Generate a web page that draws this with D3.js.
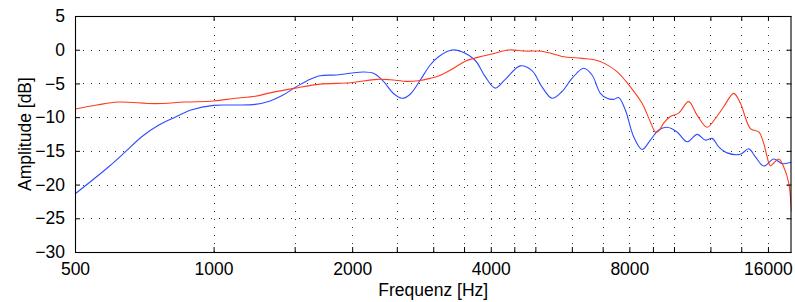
<!DOCTYPE html>
<html>
<head>
<meta charset="utf-8">
<script src="https://cdn.jsdelivr.net/npm/d3@7"></script>
<style>
  body { margin: 0; background: #fff; }
  svg text { font-family: "Liberation Sans", Arial, Helvetica, sans-serif; fill: #000; }
</style>
</head>
<body>
<div id="chart"></div>
<script>
const SVG_WIDTH = 795;
const SVG_HEIGHT = 302;
const MARGIN = { top: 16, right: 3.5, bottom: 50, left: 75 };
const WIDTH = SVG_WIDTH - MARGIN.left - MARGIN.right;
const HEIGHT = SVG_HEIGHT - MARGIN.top - MARGIN.bottom;

const X_DOMAIN = [500, 18000];
const Y_DOMAIN = [-30, 5];
const X_TICKS = [500, 1000, 2000, 4000, 8000, 16000];
const X_GRID = [1000, 1500, 2000, 2500, 3000, 3500, 4000, 4500, 5000, 6000, 7000,
                8000, 9000, 10000, 12000, 14000, 16000];
const Y_TICKS = [-30, -25, -20, -15, -10, -5, 0, 5];
const Y_GRID = [-25, -20, -15, -10, -5, 0];

// blue curve
const blueFreq = [500, 591, 642, 698, 759, 825, 897, 1000, 1114, 1231, 1327, 1409, 1504, 1597,
  1704, 1853, 1980, 2116, 2225, 2339, 2459, 2565, 2674, 2811, 2955, 3080, 3294, 3463, 3702,
  3891, 4091, 4301, 4636, 4916, 5168, 5433, 5712, 6005, 6364, 6637, 6919, 7155, 7395, 7582,
  7841, 8174, 8524, 8886, 9263, 9661, 10156, 10678, 11225, 11702, 12101, 12507, 13044, 13942,
  14534, 15029, 15667, 16471, 17178, 18000];
const blueDb = [-21.4, -17.4, -15.2, -12.9, -11.2, -10.0, -8.9, -8.25, -8.2, -8.1, -7.6, -6.8,
  -5.6, -4.6, -3.85, -3.75, -3.5, -3.3, -3.5, -4.7, -6.5, -7.2, -6.6, -4.5, -2.27, -1.04, -0.04,
  -0.3, -1.6, -4.0, -5.7, -4.4, -2.4, -3.1, -5.5, -7.2, -6.2, -4.25, -2.76, -3.75, -6.47, -7.2,
  -7.36, -7.1, -8.95, -12.9, -14.8, -13.4, -11.9, -11.5, -12.2, -13.65, -12.55, -13.4, -13.15,
  -14.4, -15.3, -15.5, -14.7, -15.9, -17.25, -16.2, -16.9, -16.7];

// red curve
const redFreq = [500, 558, 621, 746, 867, 1000, 1114, 1231, 1327, 1504, 1704, 1980, 2263, 2419,
  2630, 2783, 2955, 3080, 3294, 3521, 3763, 4024, 4373, 4754, 5081, 5342, 5712, 6313, 6748,
  7094, 7522, 8040, 8524, 8886, 9111, 9263, 9497, 9821, 10238, 10763, 11225, 11802, 12302,
  12824, 13484, 13942, 14658, 15279, 15667, 15935, 16201, 16887, 17316, 17754, 18000];
const redDb = [-8.8, -8.2, -7.76, -8.0, -7.76, -7.6, -7.2, -6.9, -6.4, -5.7, -5.1, -4.9, -4.4,
  -4.45, -4.7, -4.6, -4.25, -3.9, -2.9, -1.7, -1.1, -0.64, -0.04, -0.2, -0.2, -0.45, -1.0,
  -1.28, -1.53, -2.1, -3.26, -5.5, -7.95, -10.7, -12.2, -12.06, -10.9, -9.9, -9.4, -7.7, -9.7,
  -11.5, -10.2, -8.46, -6.47, -7.95, -11.7, -12.2, -13.9, -15.9, -17.2, -16.2, -17.4, -19.8, -24.0];

const svg = d3.select("#chart")
  .append("svg")
  .attr("width", SVG_WIDTH)
  .attr("height", SVG_HEIGHT);

const g = svg.append("g")
  .attr("transform", `translate(${MARGIN.left},${MARGIN.top})`);

const xScale = d3.scaleLog().domain(X_DOMAIN).range([0, WIDTH]);
const yScale = d3.scaleLinear().domain(Y_DOMAIN).range([HEIGHT, 0]);

const crisp = v => Math.round(v) + 0.5;

// grid
g.append("g").attr("class", "grid")
  .selectAll("line.vgrid")
  .data(X_GRID)
  .join("line")
  .attr("x1", d => crisp(xScale(d)))
  .attr("x2", d => crisp(xScale(d)))
  .attr("y1", HEIGHT)
  .attr("y2", 0)
  .attr("stroke", "#333")
  .attr("stroke-dasharray", "1,7");

g.append("g").attr("class", "grid")
  .selectAll("line.hgrid")
  .data(Y_GRID)
  .join("line")
  .attr("x1", 0)
  .attr("x2", WIDTH)
  .attr("y1", d => crisp(yScale(d)))
  .attr("y2", d => crisp(yScale(d)))
  .attr("stroke", "#333")
  .attr("stroke-dasharray", "1,7");

// curves
g.append("clipPath").attr("id", "plot-clip")
  .append("rect").attr("width", WIDTH).attr("height", HEIGHT);

const line = d3.line()
  .x(d => xScale(d[0]))
  .y(d => yScale(d[1]))
  .curve(d3.curveCatmullRom.alpha(0.5));

const series = [
  { pts: d3.zip(blueFreq, blueDb), color: "#2f4cff" },
  { pts: d3.zip(redFreq, redDb), color: "#ff3b1f" }
];

g.append("g").attr("clip-path", "url(#plot-clip)")
  .selectAll("path")
  .data(series)
  .join("path")
  .attr("d", d => line(d.pts))
  .attr("fill", "none")
  .attr("stroke", d => d.color)
  .attr("stroke-width", 1.1);

// axes, ticks inside, box frame
const xAxisBottom = d3.axisBottom(xScale).tickValues(X_GRID.concat([500])).tickSize(-5)
  .tickFormat(d => X_TICKS.includes(d) ? d : "").tickPadding(11);
const xAxisTop = d3.axisTop(xScale).tickValues(X_GRID).tickSize(-5).tickFormat("");
const yAxisLeft = d3.axisLeft(yScale).tickValues(Y_TICKS).tickSize(-5)
  .tickFormat(d => d < 0 ? "\u2212" + Math.abs(d) : d).tickPadding(10);
const yAxisRight = d3.axisRight(yScale).tickValues(Y_TICKS).tickSize(-5).tickFormat("");

function styleAxis(sel) {
  sel.select(".domain").remove();
  sel.selectAll(".tick line").attr("stroke", "#000");
  sel.selectAll(".tick text").style("font-size", "17.5px");
}

g.append("g").attr("transform", `translate(0,${HEIGHT})`).call(xAxisBottom).call(styleAxis);
g.append("g").call(xAxisTop).call(styleAxis);
g.append("g").call(yAxisLeft).call(styleAxis);
g.append("g").attr("transform", `translate(${WIDTH},0)`).call(yAxisRight).call(styleAxis);

g.append("rect")
  .attr("x", 0.5).attr("y", 0.5)
  .attr("width", WIDTH - 1).attr("height", HEIGHT)
  .attr("fill", "none")
  .attr("stroke", "#000")
  .attr("stroke-width", 1.1);

// labels
svg.append("text")
  .attr("x", MARGIN.left + WIDTH / 2)
  .attr("y", 296)
  .attr("text-anchor", "middle")
  .style("font-size", "17.5px")
  .text("Frequenz [Hz]");

svg.append("text")
  .attr("transform", `translate(31,${MARGIN.top + HEIGHT / 2}) rotate(-90)`)
  .attr("text-anchor", "middle")
  .style("font-size", "17.5px")
  .text("Amplitude [dB]");
</script>
</body>
</html>
